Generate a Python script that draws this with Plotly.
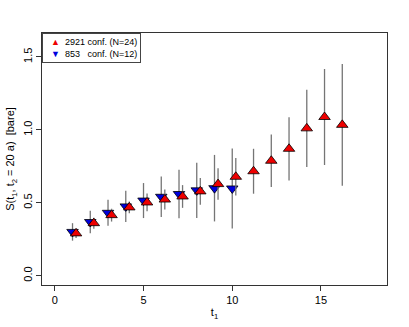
import plotly.graph_objects as go

# ---- data ----
t_red = [1, 2, 3, 4, 5, 6, 7, 8, 9, 10, 11, 12, 13, 14, 15, 16]
s_red = [0.29, 0.36, 0.415, 0.468, 0.502, 0.522, 0.543, 0.578, 0.628, 0.678,
         0.716, 0.788, 0.87, 1.01, 1.088, 1.034]
e_red = [0.031, 0.038, 0.044, 0.04, 0.061, 0.068, 0.078, 0.092, 0.108, 0.129,
         0.154, 0.18, 0.217, 0.265, 0.329, 0.418]

t_blue = [1, 2, 3, 4, 5, 6, 7, 8, 9, 10]
s_blue = [0.30, 0.368, 0.431, 0.475, 0.515, 0.541, 0.56, 0.585, 0.60, 0.598]
e_blue = [0.06, 0.077, 0.089, 0.107, 0.12, 0.139, 0.167, 0.19, 0.228, 0.274]

x_ticks = [0, 5, 10, 15]
y_ticks = [0.0, 0.5, 1.0, 1.5]
y_tick_text = ["0.0", "0.5", "1.0", "1.5"]

legend_labels = ["2921 conf. (N=24)", "853&nbsp;&nbsp;&nbsp;conf. (N=12)"]

red_shift = 0.2
RED = "#EE0000"
BLUE = "#0000DD"

fig = go.Figure()

fig.add_trace(go.Scatter(
    x=t_blue, y=s_blue, mode="markers", name="853 conf. (N=12)",
    error_y=dict(type="data", array=e_blue, visible=True, color="#757575",
                 thickness=1.3, width=0),
    marker=dict(symbol="triangle-down", size=10, color=BLUE,
                line=dict(color="black", width=0.8)),
))
fig.add_trace(go.Scatter(
    x=[t + red_shift for t in t_red], y=s_red, mode="markers",
    name="2921 conf. (N=24)",
    error_y=dict(type="data", array=e_red, visible=True, color="#757575",
                 thickness=1.3, width=0),
    marker=dict(symbol="triangle-up", size=10, color=RED,
                line=dict(color="black", width=0.8)),
))

FONT = "Liberation Sans, Arial, sans-serif"
axis_font = dict(family=FONT, size=11, color="black")

legend_text = (
    f"&nbsp;&nbsp;<span style='color:{RED}'>▲</span>&nbsp; {legend_labels[0]}<br>"
    f"&nbsp;&nbsp;<span style='color:{BLUE}'>▼</span>&nbsp; {legend_labels[1]}"
)

fig.update_layout(
    width=409, height=327,
    margin=dict(l=42, r=22, t=33, b=42, autoexpand=False),
    paper_bgcolor="white", plot_bgcolor="white",
    font=axis_font,
    showlegend=False,
    xaxis=dict(range=[-0.72, 18.72], tickvals=x_ticks, ticks="outside",
               ticklen=5, tickcolor="#333", showgrid=False, zeroline=False,
               showline=True, linecolor="#333", linewidth=1, mirror=True,
               automargin=False,
               title=dict(text="t<sub>1</sub>", standoff=3, font=dict(size=11))),
    yaxis=dict(range=[-0.064, 1.664], tickvals=y_ticks, ticktext=y_tick_text,
               tickangle=-90, ticks="outside", ticklen=5, tickcolor="#333",
               showgrid=False, zeroline=False, automargin=False,
               showline=True, linecolor="#333", linewidth=1, mirror=True,
               title=dict(text="S(t<sub>1</sub>, t<sub>2</sub> = 20 a)  [bare]",
                          standoff=4, font=dict(size=11))),
    annotations=[dict(
        x=0, y=1, xref="paper", yref="paper", xanchor="left", yanchor="top",
        text=legend_text, showarrow=False, align="left",
        font=dict(family=FONT, size=9, color="black"),
        bgcolor="white", bordercolor="#444", borderwidth=1, borderpad=3,
    )],
)

fig.write_html("out.html", config={"displayModeBar": False},
               post_script="document.body.style.margin='0';")
